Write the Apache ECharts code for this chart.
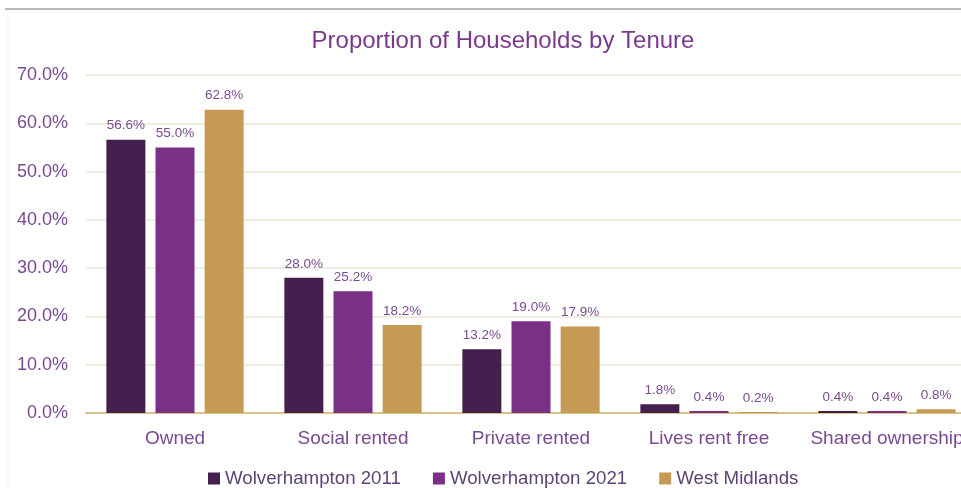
<!DOCTYPE html>
<html>
<head>
<meta charset="utf-8">
<script src="https://cdn.jsdelivr.net/npm/echarts@6/dist/echarts.min.js"></script>
<style>html,body{margin:0;padding:0;background:#fff;}#c{width:961px;height:488px;}</style>
</head>
<body>
<div id="c"></div>
<script>
var categories = ['Owned', 'Social rented', 'Private rented', 'Lives rent free', 'Shared ownership'];
var seriesNames = ['Wolverhampton 2011', 'Wolverhampton 2021', 'West Midlands'];
var wolv2011 = [56.6, 28.0, 13.2, 1.8, 0.4];
var wolv2021 = [55.0, 25.2, 19.0, 0.4, 0.4];
var westMidlands = [62.8, 18.2, 17.9, 0.2, 0.8];
var yTicks = [0, 10, 20, 30, 40, 50, 60, 70];

var colors = ['#45204f', '#7b2f86', '#c49a55'];
var font = 'Liberation Sans, Arial, sans-serif';
var chart = echarts.init(document.getElementById('c'), null, {renderer: 'canvas'});

function mkSeries(name, data, color) {
  return {
    name: name, type: 'bar', data: data,
    barWidth: 39, barGap: '26%',
    itemStyle: {color: color},
    label: {
      show: true, position: 'top', distance: 7,
      color: '#7a4a90', fontSize: 13.5, fontFamily: font,
      formatter: function (p) { return p.value.toFixed(1) + '%'; }
    }
  };
}

chart.setOption({
  backgroundColor: '#ffffff',
  animation: false,
  title: {
    text: 'Proportion of Households by Tenure',
    left: 498, top: 24, textAlign: 'center',
    textStyle: {color: '#7a3a8c', fontSize: 24, fontWeight: 'normal', fontFamily: font}
  },
  legend: {
    data: seriesNames, left: 203, top: 464,
    itemWidth: 12, itemHeight: 12, itemGap: 32, icon: 'rect',
    textStyle: {color: '#5c4475', fontSize: 18.7, fontFamily: font}
  },
  grid: {left: 86, top: 75, width: 890, bottom: 75, containLabel: false, outerBoundsMode: 'none'},
  xAxis: {
    type: 'category', data: categories,
    axisLine: {lineStyle: {color: '#d8c28c', width: 2}},
    axisTick: {show: false},
    axisLabel: {color: '#7a4a90', fontSize: 19, fontFamily: font, margin: 16, interval: 0}
  },
  yAxis: {
    type: 'value', min: yTicks[0], max: yTicks[yTicks.length - 1], interval: 10,
    axisLine: {show: false}, axisTick: {show: false},
    splitLine: {lineStyle: {color: '#efede0', width: 2}},
    axisLabel: {
      color: '#7a4a90', fontSize: 18, fontFamily: font, margin: 18,
      formatter: function (v) { return v.toFixed(1) + '%'; }
    }
  },
  series: [
    mkSeries(seriesNames[0], wolv2011, colors[0]),
    mkSeries(seriesNames[1], wolv2021, colors[1]),
    mkSeries(seriesNames[2], westMidlands, colors[2])
  ],
  graphic: [
    {type: 'line', shape: {x1: 5, y1: 9, x2: 961, y2: 9}, style: {stroke: '#b9b9b9', lineWidth: 2}},
    {type: 'line', shape: {x1: 8, y1: 10, x2: 8, y2: 488}, style: {stroke: '#f2f2f2', lineWidth: 1}}
  ]
});
</script>
</body>
</html>
